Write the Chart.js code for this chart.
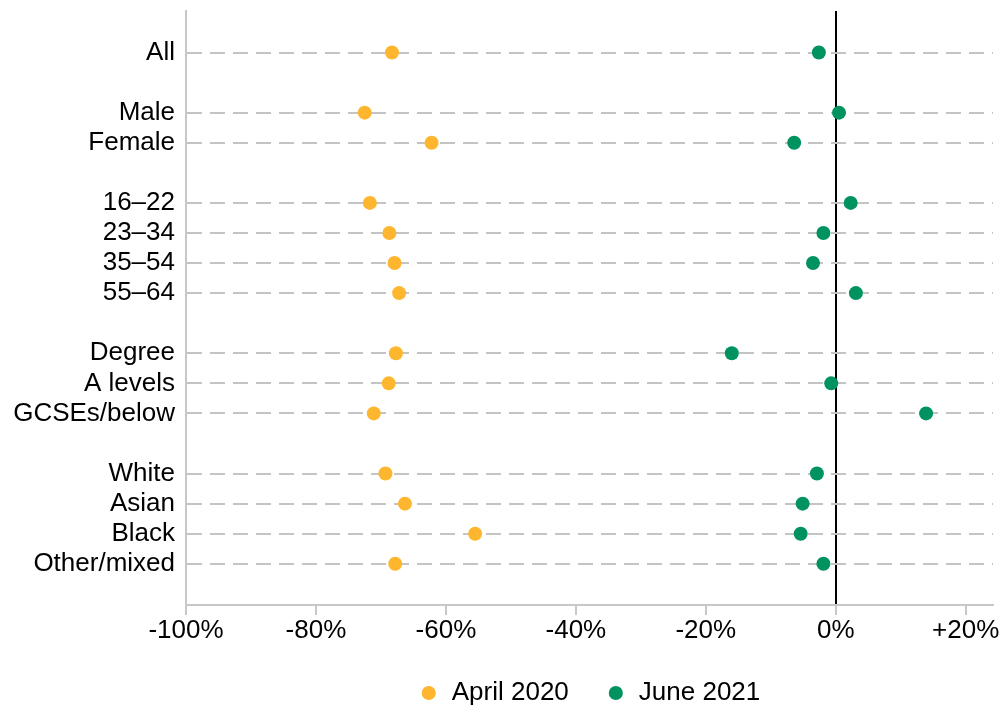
<!DOCTYPE html>
<html>
<head>
<meta charset="utf-8">
<script src="https://cdn.jsdelivr.net/npm/chart.js@4.4.1/dist/chart.umd.min.js"></script>
<style>
  html, body { margin: 0; padding: 0; background: #ffffff; }
  #wrap { position: relative; width: 1005px; height: 711px; }
</style>
</head>
<body>
<div id="wrap"><canvas id="c" width="1005" height="711"></canvas></div>
<script>
// Row labels (blank entries are the gaps between groups)
const categories = ['All', '', 'Male', 'Female', '', '16–22', '23–34', '35–54', '55–64', '',
  'Degree', 'A levels', 'GCSEs/below', '', 'White', 'Asian', 'Black', 'Other/mixed'];
// Percentage change, April 2020
const april2020 = [-68.3, null, -72.5, -62.2, null, -71.7, -68.7, -67.9, -67.2, null,
  -67.7, -68.8, -71.1, null, -69.3, -66.3, -55.5, -67.8];
// Percentage change, June 2021
const june2021 = [-2.6, null, 0.5, -6.4, null, 2.3, -1.9, -3.5, 3.1, null,
  -16.0, -0.7, 13.9, null, -2.9, -5.1, -5.4, -1.9];
const seriesNames = ['April 2020', 'June 2021'];
const xTicks = [-100, -80, -60, -40, -20, 0, 20];

const toPoints = arr => arr.map((v, i) => v === null ? null : { x: v, y: i }).filter(p => p);

const FONT = "'Liberation Sans', Arial, sans-serif";
const ORANGE = '#FDB62D';
const GREEN = '#00935F';

new Chart(document.getElementById('c'), {
  type: 'scatter',
  data: {
    datasets: [
      { label: seriesNames[0], data: toPoints(april2020), backgroundColor: ORANGE, borderColor: ORANGE,
        borderWidth: 0, pointRadius: 7, pointHoverRadius: 7 },
      { label: seriesNames[1], data: toPoints(june2021), backgroundColor: GREEN, borderColor: GREEN,
        borderWidth: 0, pointRadius: 7, pointHoverRadius: 7 }
    ]
  },
  options: {
    responsive: false,
    animation: false,
    layout: { padding: { left: 0, right: 12, top: 11, bottom: -5 } },
    plugins: {
      tooltip: { enabled: false },
      legend: {
        position: 'bottom',
        fullSize: false,
        labels: {
          usePointStyle: true, pointStyle: 'circle',
          boxWidth: 20, boxHeight: 10, padding: 37,
          color: '#000', font: { family: FONT, size: 26 }
        }
      }
    },
    scales: {
      x: {
        type: 'linear',
        min: -100, max: 24.2,
        afterBuildTicks: s => { s.ticks = xTicks.map(v => ({ value: v })); },
        afterFit: s => { s.height = 38; s.paddingLeft = 0; s.paddingRight = 0; },
        ticks: {
          color: '#000', font: { family: FONT, size: 26, lineHeight: 0.8 }, padding: 5,
          maxRotation: 0, autoSkip: false,
          callback: v => (v > 0 ? '+' : '') + v + '%'
        },
        grid: {
          drawTicks: true, tickLength: 10, tickWidth: 2, tickColor: '#c8c8c8',
          lineWidth: 2,
          color: ctx => (ctx.tick && ctx.tick.value === 0) ? '#000000' : 'rgba(0,0,0,0)'
        },
        border: { display: true, color: '#c8c8c8', width: 2 }
      },
      y: {
        type: 'linear',
        reverse: true,
        min: -1.38, max: 18.37,
        afterBuildTicks: s => { s.ticks = categories.map((c, i) => ({ value: i })); },
        afterFit: s => { s.width = 186; s.paddingTop = 0; s.paddingBottom = 0; },
        ticks: {
          color: '#000', font: { family: FONT, size: 26 }, padding: 11, autoSkip: false,
          callback: v => categories[v] || ''
        },
        grid: {
          drawTicks: false, lineWidth: 2,
          color: ctx => (ctx.tick && categories[ctx.tick.value]) ? '#c4c4c4' : 'rgba(0,0,0,0)'
        },
        border: { display: true, color: '#c8c8c8', width: 2, dash: [15, 8], dashOffset: 0 }
      }
    }
  }
});
</script>
</body>
</html>
